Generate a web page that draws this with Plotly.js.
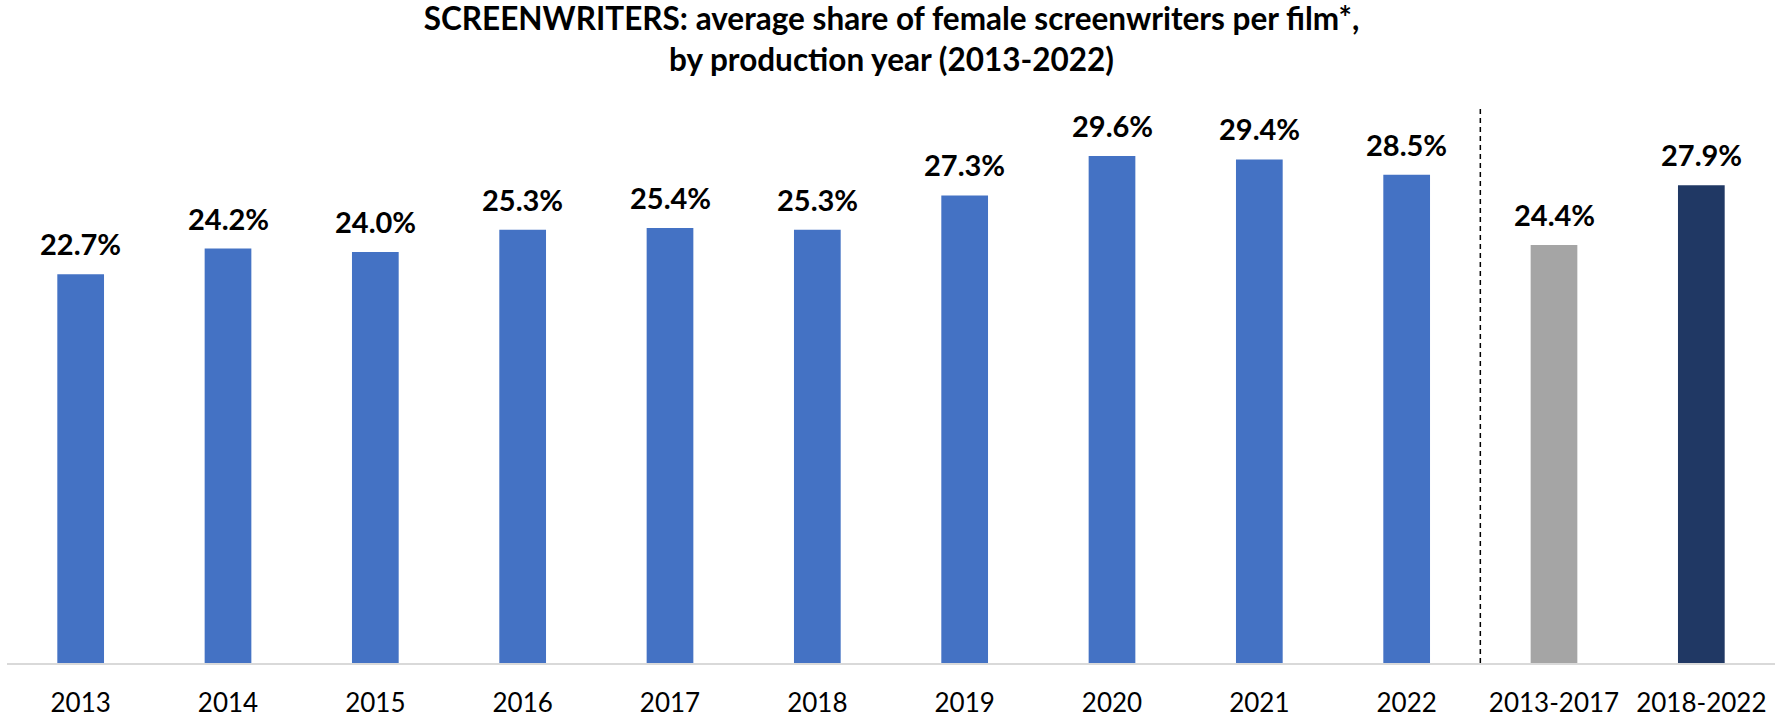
<!DOCTYPE html>
<html>
<head>
<meta charset="utf-8">
<script src="https://cdn.plot.ly/plotly-3.0.1.min.js"></script>
<style>html,body{margin:0;padding:0;background:#fff;}#chart{width:1783px;height:718px;}</style>
</head>
<body>
<div id="chart"></div>
<script>
var categories = ["2013","2014","2015","2016","2017","2018","2019","2020","2021","2022","2013-2017","2018-2022"];
var values = [22.7,24.2,24.0,25.3,25.4,25.3,27.3,29.6,29.4,28.5,24.4,27.9];
var barColors = ["#4472C4","#4472C4","#4472C4","#4472C4","#4472C4","#4472C4","#4472C4","#4472C4","#4472C4","#4472C4","#A5A5A5","#203864"];
var yearCount = 10;

var idx = categories.map(function(c, i){ return i; });

var trace = {
  type: "bar",
  x: idx,
  y: values,
  marker: {color: barColors},
  hoverinfo: "y"
};

var annotations = idx.map(function(i){
  return {
    x: i, y: values[i], xref: "x", yref: "y",
    text: "<b>" + values[i].toFixed(1) + "%</b>",
    showarrow: false, yanchor: "bottom", yshift: 11,
    font: {family: "Lato, sans-serif", size: 29, color: "#000"}
  };
});

var layout = {
  width: 1783, height: 718,
  margin: {l: 7, r: 8, t: 100, b: 55},
  paper_bgcolor: "#fff", plot_bgcolor: "#fff",
  bargap: 0.683,
  showlegend: false,
  title: {
    text: "<b>SCREENWRITERS: average share of female screenwriters per film*,<br>by production year (2013-2022)</b>",
    x: 0.5, xanchor: "center", y: 0.958, yanchor: "middle", yref: "container",
    font: {family: "Lato, sans-serif", size: 31.5, color: "#000"}
  },
  xaxis: {
    type: "linear",
    range: [-0.5, categories.length - 0.5],
    tickmode: "array", tickvals: idx, ticktext: categories,
    showline: true, linecolor: "#D9D9D9", linewidth: 1.5,
    ticks: "", showgrid: false, zeroline: false,
    ticklabelstandoff: 16,
    tickfont: {family: "Lato, sans-serif", size: 26, color: "#000"}
  },
  yaxis: {
    range: [0, 32.87], visible: false, showgrid: false, zeroline: false
  },
  annotations: annotations,
  shapes: [{
    type: "line", xref: "x", yref: "paper",
    x0: yearCount - 0.5, x1: yearCount - 0.5, y0: 0, y1: 0.985,
    line: {color: "#000", width: 1.5, dash: "5px,4px"}
  }]
};

Plotly.newPlot("chart", [trace], layout, {displayModeBar: false, staticPlot: true});
</script>
</body>
</html>
